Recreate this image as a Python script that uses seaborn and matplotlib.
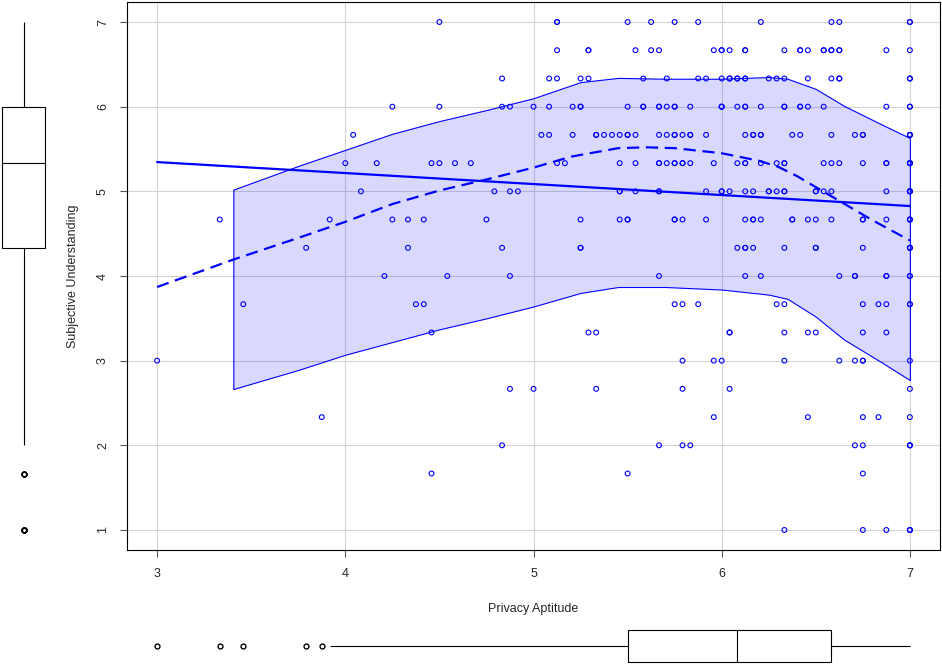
import matplotlib
matplotlib.use("Agg")
import matplotlib.pyplot as plt
import numpy as np
import pandas as pd
import seaborn as sns

# --- data read off the reference scatterplot ---
# each list holds the Privacy Aptitude scores of respondents at one
# Subjective Understanding level (repeated values = overplotted points)
su_7_00 = [4.5, 5.125, 5.125, 5.5, 5.625, 5.75, 5.875, 6.208, 6.583, 6.625, 7.0, 7.0]
su_6_67 = [5.125, 5.292, 5.292, 5.542, 5.625, 5.667, 5.958, 6.0, 6.0, 6.042, 6.125, 6.125,
           6.333, 6.417, 6.417, 6.458, 6.542, 6.542, 6.583, 6.583, 6.625, 6.625, 6.875, 7.0]
su_6_33 = [4.833, 5.083, 5.125, 5.25, 5.292, 5.583, 5.708, 5.875, 5.917, 6.0, 6.042, 6.042,
           6.083, 6.083, 6.125, 6.125, 6.25, 6.292, 6.333, 6.458, 6.583, 6.625, 6.625, 7.0, 7.0]
su_6_00 = [4.25, 4.5, 4.833, 4.875, 5.0, 5.083, 5.208, 5.25, 5.25, 5.5, 5.583, 5.583, 5.667,
           5.667, 5.708, 5.75, 5.75, 5.833, 6.0, 6.0, 6.0, 6.083, 6.125, 6.125, 6.208, 6.333,
           6.333, 6.417, 6.417, 6.458, 6.542, 6.875, 7.0, 7.0]
su_5_67 = [4.042, 5.042, 5.083, 5.208, 5.333, 5.333, 5.375, 5.417, 5.458, 5.5, 5.5, 5.542,
           5.667, 5.708, 5.75, 5.75, 5.792, 5.833, 5.833, 5.917, 6.125, 6.167, 6.167, 6.208,
           6.208, 6.375, 6.417, 6.583, 6.708, 6.75, 6.75, 7.0, 7.0, 7.0]
su_5_33 = [4.0, 4.167, 4.458, 4.5, 4.583, 4.667, 5.125, 5.167, 5.458, 5.542, 5.667, 5.667,
           5.708, 5.75, 5.75, 5.792, 5.792, 5.833, 5.958, 6.083, 6.125, 6.125, 6.208, 6.292,
           6.333, 6.333, 6.542, 6.583, 6.625, 6.75, 6.875, 6.875, 7.0, 7.0, 7.0, 7.0]
su_5_00 = [4.083, 4.792, 4.875, 4.917, 5.458, 5.458, 5.542, 5.667, 5.667, 5.917, 6.0, 6.0,
           6.042, 6.125, 6.167, 6.25, 6.25, 6.292, 6.333, 6.333, 6.5, 6.5, 6.542, 6.583,
           6.875, 7.0, 7.0, 7.0, 7.0]
su_4_67 = [3.333, 3.917, 4.25, 4.333, 4.417, 4.75, 5.25, 5.458, 5.5, 5.5, 5.75, 5.75, 5.792,
           5.917, 6.125, 6.167, 6.167, 6.208, 6.375, 6.375, 6.458, 6.5, 6.583, 6.75, 6.75,
           6.875, 7.0, 7.0, 7.0]
su_4_33 = [3.792, 4.333, 4.833, 5.25, 5.25, 6.083, 6.125, 6.125, 6.167, 6.333, 6.5, 6.5,
           6.75, 7.0, 7.0, 7.0]
su_4_00 = [4.208, 4.542, 4.875, 5.667, 6.125, 6.208, 6.625, 6.708, 6.708, 6.875, 6.875, 7.0, 7.0]
su_3_67 = [3.458, 4.375, 4.417, 5.75, 5.792, 5.875, 6.292, 6.333, 6.75, 6.833, 6.875, 7.0, 7.0]
su_3_33 = [4.458, 5.292, 5.333, 6.042, 6.042, 6.333, 6.458, 6.5, 6.75, 6.875]
su_3_00 = [3.0, 5.792, 5.958, 6.0, 6.333, 6.625, 6.708, 6.75, 6.75, 7.0]
su_2_67 = [4.875, 5.0, 5.333, 5.792, 6.042, 7.0]
su_2_33 = [3.875, 5.958, 6.458, 6.75, 6.833, 7.0]
su_2_00 = [4.833, 5.667, 5.792, 5.833, 6.708, 6.75, 7.0, 7.0, 7.0]
su_1_67 = [4.458, 5.5, 6.75]
su_1_00 = [6.333, 6.75, 6.875, 7.0, 7.0, 7.0]

understanding_levels = [7.0, 6.667, 6.333, 6.0, 5.667, 5.333, 5.0, 4.667, 4.333, 4.0,
                        3.667, 3.333, 3.0, 2.667, 2.333, 2.0, 1.667, 1.0]
aptitude_rows = [su_7_00, su_6_67, su_6_33, su_6_00, su_5_67, su_5_33, su_5_00, su_4_67,
                 su_4_33, su_4_00, su_3_67, su_3_33, su_3_00, su_2_67, su_2_33, su_2_00,
                 su_1_67, su_1_00]

# loess smooth (dashed) and spread band
loess_x = [3.0, 3.4, 3.75, 4.0, 4.25, 4.5, 4.75, 5.0, 5.2, 5.45, 5.6, 5.75, 6.0, 6.2,
           6.3, 6.4, 6.5, 6.6, 6.7, 6.8, 6.9, 7.0]
loess_y = [3.87, 4.19, 4.45, 4.64, 4.85, 5.01, 5.14, 5.28, 5.41, 5.51, 5.52, 5.51, 5.45,
           5.36, 5.29, 5.18, 5.05, 4.92, 4.79, 4.66, 4.54, 4.42]
band_x = [3.405, 3.75, 4.0, 4.25, 4.5, 4.75, 5.0, 5.25, 5.45, 5.7, 6.0, 6.25, 6.35, 6.5,
          6.65, 6.85, 7.0]
band_upper = [5.02, 5.30, 5.49, 5.68, 5.83, 5.96, 6.10, 6.29, 6.34, 6.33, 6.33, 6.35, 6.33,
              6.21, 6.01, 5.79, 5.63]
band_lower = [2.665, 2.89, 3.07, 3.22, 3.37, 3.50, 3.64, 3.80, 3.87, 3.87, 3.84, 3.78, 3.73,
              3.52, 3.25, 2.98, 2.77]

x_ticks = [3, 4, 5, 6, 7]
y_ticks = [1, 2, 3, 4, 5, 6, 7]


def build_frame() -> pd.DataFrame:
    rows = []
    for level, xs in zip(understanding_levels, aptitude_rows):
        for x in xs:
            rows.append((x, level))
    return pd.DataFrame(rows, columns=["privacy_aptitude", "subjective_understanding"])


def main() -> None:
    df = build_frame()

    sns.set_theme(style="white")
    plt.rcParams["font.family"] = ["Liberation Sans", "DejaVu Sans"]

    W, H = 942, 664
    fig = plt.figure(figsize=(W / 100, H / 100), dpi=100)

    def px_axes(left, top, right, bottom, **kw):
        return fig.add_axes([left / W, 1 - bottom / H, (right - left) / W, (bottom - top) / H], **kw)

    ax = px_axes(127, 1.7, 940, 550.3)

    # spread band
    ax.fill_between(band_x, band_lower, band_upper, facecolor=(0, 0, 1, 0.15),
                    edgecolor="blue", linewidth=0.8, zorder=2)

    sns.scatterplot(data=df, x="privacy_aptitude", y="subjective_understanding", ax=ax,
                    s=12, facecolor="none", edgecolor="blue", linewidth=0.8, zorder=3)

    # linear fit
    sns.regplot(data=df, x="privacy_aptitude", y="subjective_understanding", ax=ax,
                scatter=False, ci=None, truncate=True, color="blue",
                line_kws=dict(lw=1.6, zorder=4))

    # loess smooth
    ax.plot(loess_x, loess_y, color="blue", lw=1.6, dashes=(5.5, 3), zorder=4)

    ax.set_xticks(x_ticks)
    ax.set_yticks(y_ticks)
    ax.set_xticklabels([str(t) for t in x_ticks])
    ax.set_yticklabels([str(t) for t in y_ticks], rotation=90, va="center")
    ax.tick_params(direction="out", length=5, width=0.8, color="#555555",
                   labelsize=9, pad=8, left=True, bottom=True)
    ax.grid(True, color="#d3d3d3", lw=0.8)
    ax.set_axisbelow(True)
    for sp in ax.spines.values():
        sp.set_color("black")
        sp.set_linewidth(0.8)
    ax.set_xlabel("Privacy Aptitude", fontsize=9, labelpad=16)
    ax.set_ylabel("Subjective Understanding", fontsize=9, labelpad=13)

    box_kws = dict(color="white", linecolor="black", linewidth=0.8, showcaps=False,
                   flierprops=dict(marker="o", markersize=3.5, markerfacecolor="none",
                                   markeredgecolor="black", markeredgewidth=1.0))

    # marginal boxplots
    ax_left = px_axes(0, 1.7, 47, 550.3, sharey=ax)
    sns.boxplot(y=df["subjective_understanding"], ax=ax_left, width=0.93, **box_kws)
    ax_left.set_xlim(-0.5, 0.5)
    ax_left.axis("off")

    ax_bot = px_axes(127, 628, 940, 664, sharex=ax)
    sns.boxplot(x=df["privacy_aptitude"], ax=ax_bot, width=0.88, **box_kws)
    ax_bot.set_ylim(0.5, -0.5)
    ax_bot.axis("off")

    ax.set_xlim(2.84, 7.16)
    ax.set_ylim(0.76, 7.24)

    fig.savefig("out.png", dpi=100)
    plt.close(fig)


if __name__ == "__main__":
    main()
